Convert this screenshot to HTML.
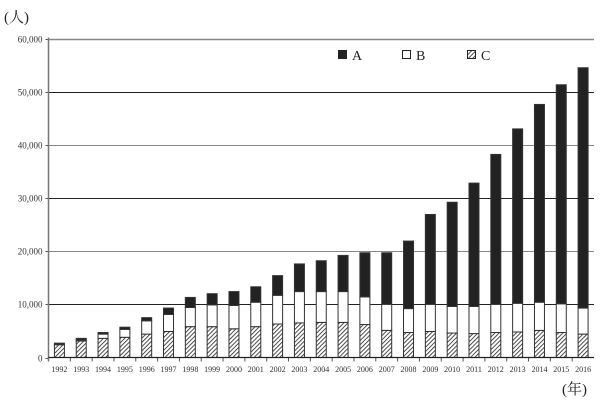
<!DOCTYPE html>
<html><head><meta charset="utf-8">
<style>
body{margin:0;background:#fff;}
svg{display:block;font-family:"Liberation Serif","Noto Serif CJK SC",serif;}
</style></head>
<body>
<svg id="chart" width="612" height="412" viewBox="0 0 612 412" xmlns="http://www.w3.org/2000/svg">
<defs>
<pattern id="hatch" patternUnits="userSpaceOnUse" width="3" height="3" patternTransform="rotate(45)">
<rect width="3" height="3" fill="#fff"/>
<line x1="0" y1="0" x2="0" y2="3" stroke="#222" stroke-width="1.6"/>
</pattern>
</defs>
<text x="4" y="22" font-size="15" fill="#222">(人)</text>
<text x="562" y="394" font-size="15" fill="#222">(年)</text>
<g id="grid"></g>
<g id="bars"></g>
<g id="axes"></g>
<g>
<rect x="338" y="50" width="9" height="9" fill="#222"/>
<text x="352" y="60" font-size="14" fill="#222">A</text>
<rect x="402.5" y="50.5" width="8" height="8" fill="#fff" stroke="#222"/>
<text x="416" y="60" font-size="14" fill="#222">B</text>
<rect x="467.5" y="50.5" width="8" height="8" fill="url(#hatch)" stroke="#222"/>
<text x="481" y="60" font-size="14" fill="#222">C</text>
</g>
</svg>
<script>
const years=["1992","1993","1994","1995","1996","1997","1998","1999","2000","2001","2002","2003","2004","2005","2006","2007","2008","2009","2010","2011","2012","2013","2014","2015","2016"];
const seriesC=[2400,3100,3600,3800,4400,4900,5800,5800,5400,5800,6300,6500,6600,6600,6200,5100,4700,4900,4600,4500,4700,4800,5100,4700,4400];
const seriesB=[100,200,800,1500,2500,3200,3600,4100,4400,4600,5400,5900,5800,5800,5200,4900,4500,5100,5000,5100,5300,5400,5300,5400,4900];
const seriesA=[200,300,300,400,600,1200,1900,2100,2600,2900,3700,5200,5800,6800,8300,9700,12700,16900,19600,23200,28200,32800,37200,41200,45200];
const yTicks=[0,10000,20000,30000,40000,50000,60000];
const yTickLabels=["0","10,000","20,000","30,000","40,000","50,000","60,000"];

const NS="http://www.w3.org/2000/svg";
const x0=48.5,x1=594,y0=357.5,yTop=38.5,yMax=60000;
const band=(x1-x0)/years.length,barW=10;
function yScale(v){return y0-(v/yMax)*(y0-yTop);}
function xCenter(i){return x0+band*(i+0.5);}
function mk(tag,attrs,parent){const e=document.createElementNS(NS,tag);for(const k in attrs)e.setAttribute(k,attrs[k]);parent.appendChild(e);return e;}

const grid=document.getElementById('grid'),bars=document.getElementById('bars'),axes=document.getElementById('axes');
yTicks.forEach((t,i)=>{
  const y=Math.round(yScale(t))+0.5;
  if(t>0){
    const l=mk('line',{x1:x0,x2:x1,y1:y,y2:y,stroke:(t===60000?'#888':(t%20000===0?'#888':'#222')),'stroke-width':t===60000?1.5:1},grid);
    
    
  }
  const tk=mk('line',{x1:x0-3,x2:x0,y1:y,y2:y,stroke:'#555'},axes);
  
  
  const tx=mk('text',{x:x0-6,y:y+3,'font-size':9,'text-anchor':'end',fill:'#333'},axes);
  tx.textContent=yTickLabels[i];
  
  
});
years.forEach((yr,i)=>{
  const cx=xCenter(i),bx=cx-barW/2;
  const c=seriesC[i],b=seriesB[i],a=seriesA[i];
  const rc=mk('rect',{x:bx,y:yScale(c),width:barW,height:y0-yScale(c),fill:'url(#hatch)',stroke:'#333','stroke-width':1},bars);
  
  
  const rb=mk('rect',{x:bx,y:yScale(c+b),width:barW,height:yScale(c)-yScale(c+b),fill:'#fff',stroke:'#333','stroke-width':1},bars);
  
  
  const ra=mk('rect',{x:bx,y:yScale(c+b+a),width:barW,height:yScale(c+b)-yScale(c+b+a),fill:'#222',stroke:'#333','stroke-width':1},bars);
  
  
  const tk=mk('line',{x1:x0+band*i,x2:x0+band*i,y1:y0,y2:y0+4,stroke:'#555'},axes);
  
  
  const tx=mk('text',{x:cx,y:372,'font-size':8,'text-anchor':'middle',fill:'#333'},axes);
  tx.textContent=yr;
  
  
});
const ya=mk('line',{x1:x0,x2:x0,y1:yTop-1,y2:y0+4,stroke:'#777','stroke-width':1.5},axes);


const xa=mk('line',{x1:x0,x2:x1,y1:y0,y2:y0,stroke:'#222','stroke-width':1.2},axes);


</script>
</body></html>
